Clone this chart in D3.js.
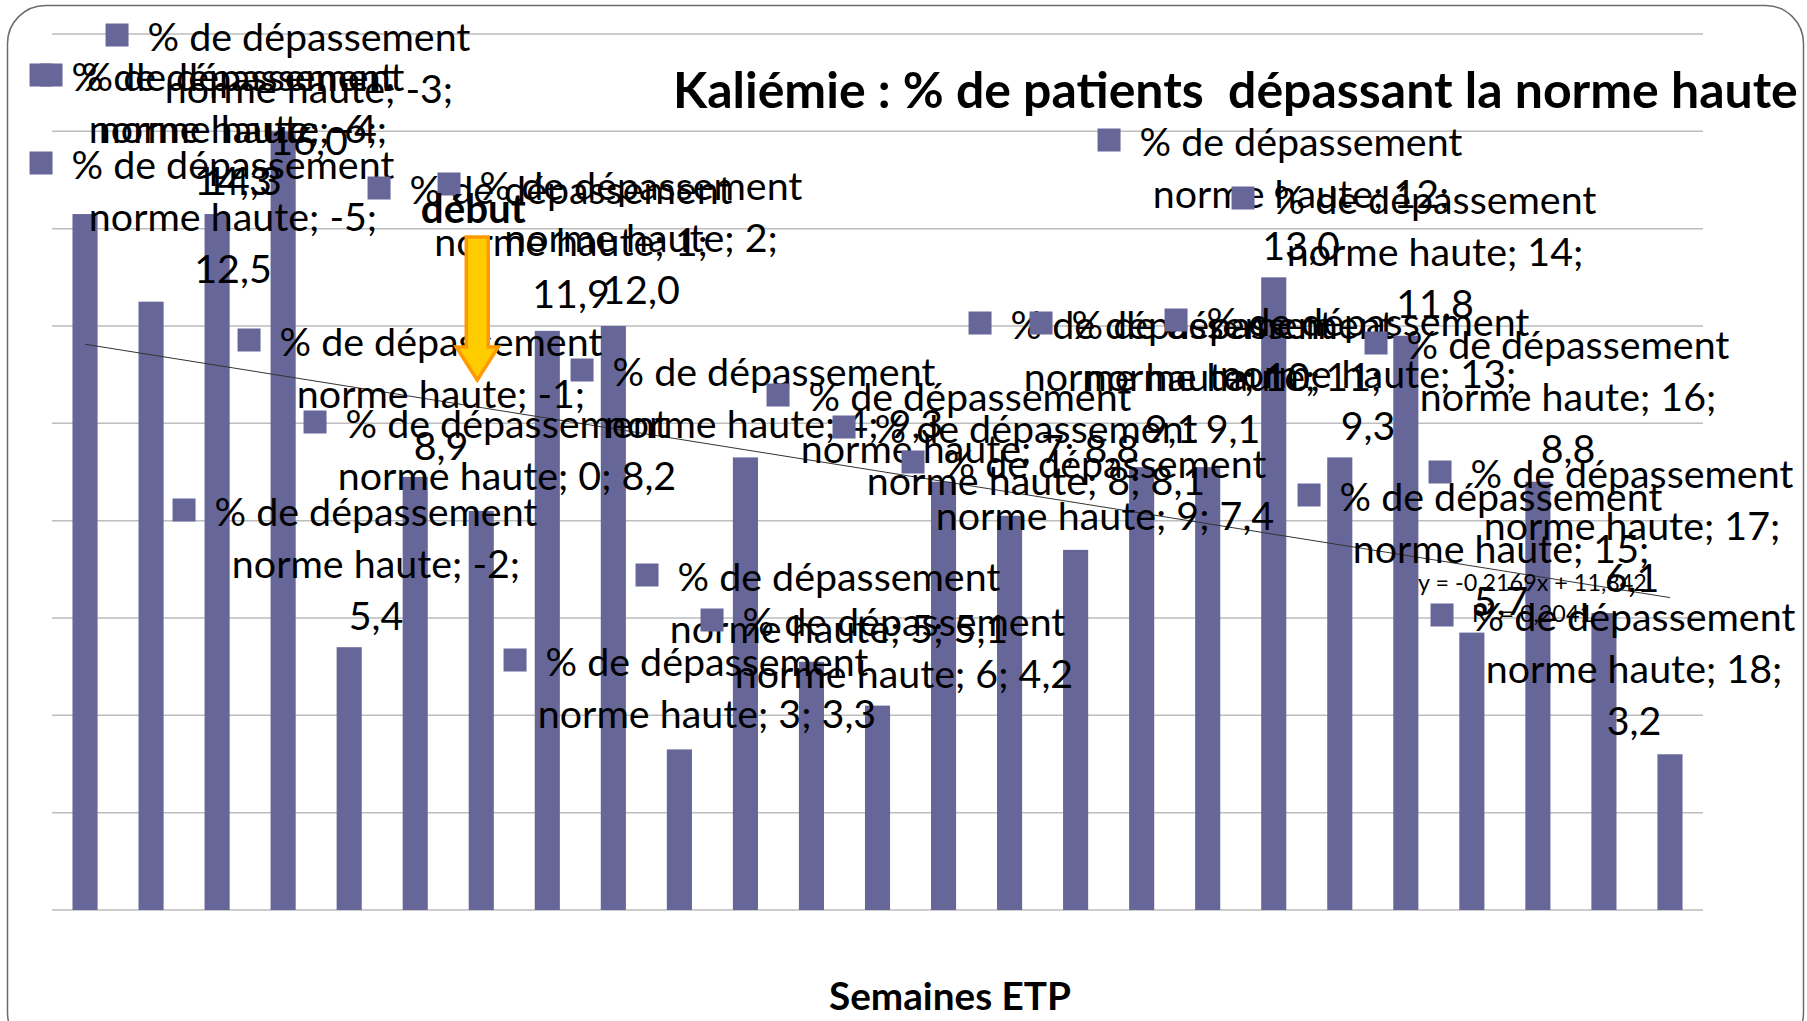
<!DOCTYPE html>
<html>
<head>
<meta charset="utf-8">
<script src="https://cdn.jsdelivr.net/npm/d3@7"></script>
<style>
  html, body { margin: 0; padding: 0; background: #fff; }
  svg { display: block; }
</style>
</head>
<body>
<script>
// data
var weeks = [-6, -5, -4, -3, -2, -1, 0, 1, 2, 3, 4, 5, 6, 7, 8, 9, 10, 11, 12, 13, 14, 15, 16, 17, 18];
var values = [14.3, 12.5, 14.3, 16.0, 5.4, 8.9, 8.2, 11.9, 12.0, 3.3, 9.3, 5.1, 4.2, 8.8, 8.1, 7.4, 9.1, 9.1, 13.0, 9.3, 11.8, 5.7, 8.8, 6.1, 3.2];
var yTicks = d3.range(0, 19, 2);
var seriesName = "% de dépassement";
var catName = "norme haute";
var trendSlope = -0.2169, trendIntercept = 11.842, trendR2 = 0.2041;
var chartTitle = "Kaliémie : % de patients  dépassant la norme haute";
var xTitle = "Semaines ETP";
var startNote = "début";
var startWeek = 0;

// where Excel dropped each data label (centre of its first line, px)
var labelPos = [
  [233, 75], [233, 163], [243, 75], [309, 35], [376, 510], [441, 340], [507, 422],
  [571, 188], [641, 184], [707, 660], [774, 370], [839, 575], [904, 620], [970, 395],
  [1036, 427], [1105, 462], [1172, 323], [1233, 323], [1301, 140], [1368, 320],
  [1435, 198], [1501, 495], [1568, 343], [1632, 472], [1634, 615]
];

var W = 1807, H = 1021;
var font = "Lato, 'Open Sans', sans-serif";
var barColor = "#666699";
var comma = function(v) { return d3.format(".1f")(v).replace(".", ","); };

var svg = d3.select("body").append("svg")
  .attr("width", W).attr("height", H);

svg.append("rect").attr("width", W).attr("height", H).attr("fill", "#fff");

// slide frame
svg.append("rect")
  .attr("x", 7.5).attr("y", 5.5)
  .attr("width", 1796).attr("height", 1045)
  .attr("rx", 38).attr("ry", 38)
  .attr("fill", "none").attr("stroke", "#6b6b6b").attr("stroke-width", 1.5);

var x = d3.scaleBand().domain(weeks).range([52, 1703]).paddingInner(0.62).paddingOuter(0.31);
var y = d3.scaleLinear().domain([0, 18]).range([910, 34]);

// gridlines
svg.append("g").selectAll("line").data(yTicks).join("line")
  .attr("x1", 52).attr("x2", 1703)
  .attr("y1", function(d) { return y(d); }).attr("y2", function(d) { return y(d); })
  .attr("stroke", "#bdbdbd").attr("stroke-width", 1.5);

// bars
svg.append("g").selectAll("rect").data(values).join("rect")
  .attr("x", function(d, i) { return x(weeks[i]); })
  .attr("width", x.bandwidth())
  .attr("y", function(d) { return y(d); })
  .attr("height", function(d) { return y(0) - y(d); })
  .attr("fill", barColor);

// linear trend (x = 1..n as in Excel)
var xc = function(i) { return x(weeks[i]) + x.bandwidth() / 2; };
var n = weeks.length;
svg.append("line")
  .attr("x1", xc(0)).attr("y1", y(trendSlope * 1 + trendIntercept))
  .attr("x2", xc(n - 1)).attr("y2", y(trendSlope * n + trendIntercept))
  .attr("stroke", "#333").attr("stroke-width", 1);

function fit(sel, target, base) {
  sel.attr("font-size", base);
  var w = sel.node().getComputedTextLength();
  var fs = base * target / w;
  sel.attr("font-size", fs);
  return fs;
}

// measure label font
var probe = svg.append("text").attr("font-family", font).text(seriesName);
var labelFs = fit(probe, 323, 40);
probe.remove();
var lineGap = 52;

// data labels
var labels = svg.append("g").attr("font-family", font).attr("font-size", labelFs).attr("fill", "#000");
values.forEach(function(v, i) {
  var g = labels.append("g").attr("transform", "translate(" + labelPos[i][0] + "," + labelPos[i][1] + ")");
  var t1 = g.append("text").attr("text-anchor", "middle").attr("dominant-baseline", "central").text(seriesName);
  var w1 = t1.node().getComputedTextLength();
  g.append("rect").attr("x", -w1 / 2 - 19 - 23).attr("y", -11.5).attr("width", 23).attr("height", 23).attr("fill", barColor);
  var full = catName + "; " + weeks[i] + "; " + comma(v);
  var lines = full.length <= 19 ? [full] : [catName + "; " + weeks[i] + ";", comma(v)];
  lines.forEach(function(s, k) {
    g.append("text").attr("text-anchor", "middle").attr("dominant-baseline", "central")
      .attr("y", (k + 1) * lineGap).text(s);
  });
});

// trend equation
var eq = svg.append("g").attr("font-family", font).attr("fill", "#000");
var eq1 = eq.append("text").attr("x", 1418).attr("y", 582).attr("dominant-baseline", "central")
  .text("y = " + String(trendSlope).replace(".", ",") + "x + " + String(trendIntercept).replace(".", ","));
var eqFs = fit(eq1, 229, 20);
eq.append("text").attr("x", 1472).attr("y", 613).attr("dominant-baseline", "central")
  .attr("font-size", eqFs).text("R² = " + String(trendR2).replace(".", ","));

// start arrow
var ax = xc(weeks.indexOf(startWeek)) - 4;
var arrow = d3.path();
arrow.moveTo(ax - 11, 237); arrow.lineTo(ax + 11, 237); arrow.lineTo(ax + 11, 347);
arrow.lineTo(ax + 21, 347); arrow.lineTo(ax, 380); arrow.lineTo(ax - 21, 347);
arrow.lineTo(ax - 11, 347); arrow.closePath();
svg.append("path").attr("d", arrow.toString())
  .attr("fill", "#ffcc00").attr("stroke", "#ff9900").attr("stroke-width", 3.5).attr("stroke-linejoin", "miter");

var note = svg.append("text").attr("font-family", font).attr("font-weight", "bold")
  .attr("x", ax - 4).attr("y", 207).attr("text-anchor", "middle").attr("dominant-baseline", "central")
  .text(startNote);
fit(note, 105, 30);

// title
var title = svg.append("text").attr("font-family", font).attr("font-weight", "bold")
  .attr("x", 673).attr("y", 108).style("white-space", "pre")
  .text(chartTitle);
fit(title, 1125, 48);

// x axis title
var xt = svg.append("text").attr("font-family", font).attr("font-weight", "bold")
  .attr("x", 950).attr("y", 995).attr("text-anchor", "middle").attr("dominant-baseline", "central")
  .text(xTitle);
fit(xt, 242, 36);
</script>
</body>
</html>
